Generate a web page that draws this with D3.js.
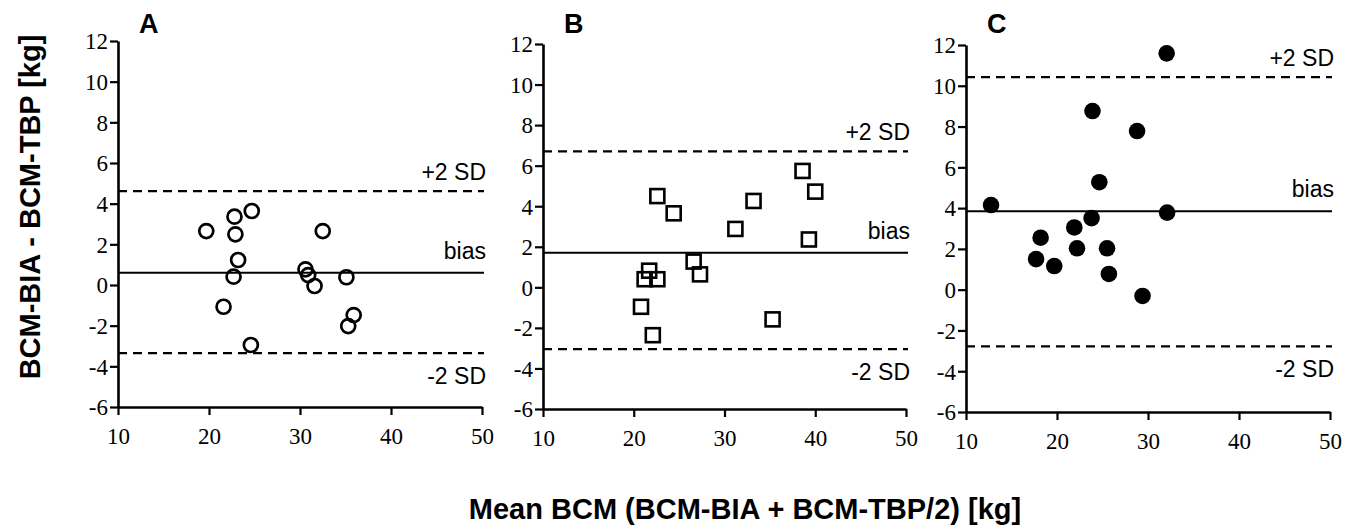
<!DOCTYPE html>
<html>
<head>
<meta charset="utf-8">
<script src="https://cdn.jsdelivr.net/npm/d3@7"></script>
<style>
	body { margin: 0; background: #fff; }
	.note { font-family: "Liberation Sans", Arial, sans-serif; font-size: 23px; fill: #000; }
	.title { font-family: "Liberation Sans", Arial, sans-serif; font-weight: bold; fill: #000; }
	g.axis text { font-family: "Liberation Serif", "Times New Roman", Times, serif; font-size: 23px; fill: #000; }
</style>
</head>
<body>
<script>
var xTicks = [10, 20, 30, 40, 50],
	yTicks = [-6, -4, -2, 0, 2, 4, 6, 8, 10, 12];

var panelNames = ["A", "B", "C"];

// mean BCM vs difference
var meanA = [19.7, 22.8, 24.7, 22.9, 23.2, 22.7, 21.6, 24.6, 32.5, 30.6, 30.9, 31.6, 35.1, 35.9, 35.3],
	diffA = [2.65, 3.36, 3.64, 2.49, 1.23, 0.41, -1.07, -2.95, 2.65, 0.77, 0.49, -0.05, 0.38, -1.48, -2.02];

var meanB = [38.6, 40.0, 33.2, 31.2, 39.3, 22.6, 24.4, 26.6, 27.3, 21.7, 21.2, 22.6, 20.8, 22.1, 35.3],
	diffB = [5.74, 4.72, 4.26, 2.88, 2.36, 4.5, 3.65, 1.27, 0.64, 0.82, 0.4, 0.4, -0.96, -2.36, -1.58];

var meanC = [32.05, 23.9, 28.8, 24.65, 12.75, 32.1, 23.8, 21.9, 18.2, 22.2, 25.5, 17.7, 19.7, 25.7, 29.4],
	diffC = [11.59, 8.76, 7.78, 5.27, 4.15, 3.78, 3.51, 3.05, 2.55, 2.03, 2.03, 1.5, 1.16, 0.77, -0.31];

var biasVals = [0.6, 1.7, 3.85],
	upperSD = [4.62, 6.7, 10.42],
	lowerSD = [-3.35, -3.05, -2.78];

var markers = ["open-circle", "open-square", "dot"];

(function(){
	var svg = d3.select("body").append("svg")
		.attr("width", 1350)
		.attr("height", 532);

	// pixel frames of the three panels
	var frames = [
		{x0: 118, x1: 482, y0: 407, y1: 41},
		{x0: 543, x1: 906, y0: 409, y1: 44},
		{x0: 966, x1: 1330, y0: 412, y1: 45}
	];
	var allMeans = [meanA, meanB, meanC],
		allDiffs = [diffA, diffB, diffC];

	function drawPanel(i) {
		var f = frames[i],
			x = d3.scaleLinear().domain([10, 50]).range([f.x0, f.x1]),
			y = d3.scaleLinear().domain([-6, 12]).range([f.y0, f.y1]),
			g = svg.append("g").classed("panel", true),
			pts = allMeans[i].map(function(m, k) { return {m: m, d: allDiffs[i][k]}; });

		var yAxis = g.append("g").classed("axis", true)
			.attr("transform", "translate(" + f.x0 + ",0)")
			.call(d3.axisLeft(y).tickValues(yTicks).tickSize(8).tickSizeOuter(0)
				.tickFormat(function(d) { return String(d); }));
		var xAxis = g.append("g").classed("axis", true)
			.attr("transform", "translate(0," + f.y0 + ")")
			.call(d3.axisBottom(x).tickValues(xTicks).tickSize(8).tickSizeOuter(0)
				.tickFormat(function(d) { return String(d); }));

		[yAxis, xAxis].forEach(function(a) {
			a.attr("font-family", "Liberation Serif").attr("font-size", 23);
			a.select(".domain").attr("stroke", "#000").attr("stroke-width", 2.6);
			a.selectAll(".tick line").attr("stroke", "#000").attr("stroke-width", 2.2);
		});
		yAxis.selectAll(".tick text").attr("x", -10).attr("dy", "0.34em");
		xAxis.selectAll(".tick text").attr("y", 21).attr("dy", "0.71em");

		// bias and limits of agreement
		g.append("line")
			.attr("x1", f.x0).attr("x2", x(50) + 2)
			.attr("y1", y(biasVals[i])).attr("y2", y(biasVals[i]))
			.attr("stroke", "#000").attr("stroke-width", 2);
		[upperSD[i], lowerSD[i]].forEach(function(v) {
			g.append("line")
				.attr("x1", f.x0).attr("x2", x(50) + 2)
				.attr("y1", y(v)).attr("y2", y(v))
				.attr("stroke", "#000").attr("stroke-width", 2.2)
				.attr("stroke-dasharray", "9,6");
		});

		g.append("text").classed("note", true)
			.attr("x", x(50) + 4).attr("y", y(upperSD[i]) - 11)
			.attr("text-anchor", "end").text("+2 SD");
		g.append("text").classed("note", true)
			.attr("x", x(50) + 4).attr("y", y(biasVals[i]) - 14)
			.attr("text-anchor", "end").text("bias");
		g.append("text").classed("note", true)
			.attr("x", x(50) + 4).attr("y", y(lowerSD[i]) + 31)
			.attr("text-anchor", "end").text("-2 SD");

		g.append("text").classed("title", true)
			.attr("x", f.x0 + 21).attr("y", 33)
			.style("font-size", "27px")
			.text(panelNames[i]);

		var kind = markers[i];
		if (kind === "open-square") {
			g.selectAll("rect.pt").data(pts).enter()
				.append("rect").classed("pt", true)
				.attr("x", function(d) { return x(d.m) - 7; })
				.attr("y", function(d) { return y(d.d) - 7; })
				.attr("width", 14).attr("height", 14)
				.attr("fill", "none").attr("stroke", "#000").attr("stroke-width", 2.6);
		} else {
			g.selectAll("circle.pt").data(pts).enter()
				.append("circle").classed("pt", true)
				.attr("cx", function(d) { return x(d.m); })
				.attr("cy", function(d) { return y(d.d); })
				.attr("r", kind === "dot" ? 8.3 : 7)
				.attr("fill", kind === "dot" ? "#000" : "none")
				.attr("stroke", "#000").attr("stroke-width", kind === "dot" ? 0 : 2.7);
		}
	}

	panelNames.forEach(function(n, i) { drawPanel(i); });

	svg.append("text").classed("title", true)
		.attr("transform", "translate(40,207) rotate(-90)")
		.attr("text-anchor", "middle")
		.style("font-size", "29px")
		.text("BCM-BIA - BCM-TBP [kg]");

	svg.append("text").classed("title", true)
		.attr("x", 745).attr("y", 519)
		.attr("text-anchor", "middle")
		.style("font-size", "29px")
		.text("Mean BCM (BCM-BIA + BCM-TBP/2) [kg]");
}());
</script>
</body>
</html>
